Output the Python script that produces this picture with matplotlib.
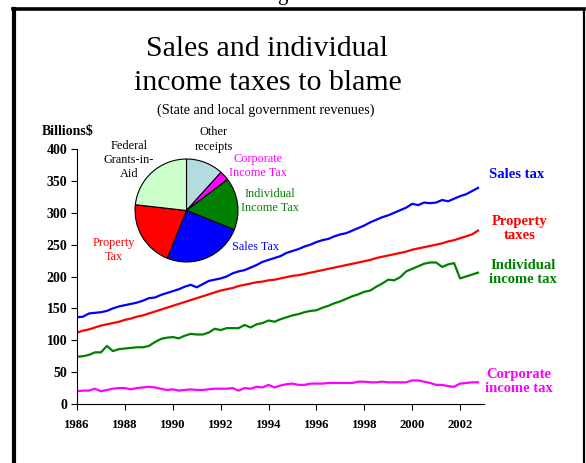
import numpy as np
import matplotlib
matplotlib.use("Agg")
import matplotlib.pyplot as plt
from matplotlib.lines import Line2D

plt.rcParams['font.family'] = ['Liberation Serif', 'DejaVu Serif']

# Quarterly observations, 1986Q1 - 2002Q4 (billions of dollars)
years = 1986 + 0.25 * np.arange(68)

sales_tax = [
    136, 137, 142, 143,
    144, 146, 150, 153,
    155, 157, 159, 162,
    166, 167, 171, 174,
    177, 180, 184, 187,
    183, 188, 193, 195,
    197, 200, 205, 208,
    210, 214, 218, 223,
    226, 229, 232, 237,
    240, 243, 247, 250,
    254, 257, 259, 263,
    266, 268, 272, 276,
    280, 285, 289, 293,
    296, 300, 304, 308,
    314, 312, 316, 315,
    316, 320, 318, 322,
    326, 329, 334, 339,
]

property_tax = [
    112, 115, 117, 120,
    123, 125, 127, 129,
    132, 134, 137, 139,
    142, 145, 148, 151,
    154, 157, 160, 163,
    166, 169, 172, 175,
    178, 180, 182, 185,
    187, 189, 191, 192,
    194, 195, 197, 199,
    201, 202, 204, 206,
    208, 210, 212, 214,
    216, 218, 220, 222,
    224, 226, 229, 231,
    233, 235, 237, 239,
    242, 244, 246, 248,
    250, 252, 255, 257,
    260, 263, 266, 272,
]

individual_tax = [
    74, 75, 77, 81,
    81, 91, 83, 86,
    87, 88, 89, 89,
    91, 97, 102, 104,
    105, 103, 107, 110,
    109, 109, 112, 118,
    116, 119, 119, 119,
    124, 120, 125, 127,
    131, 129, 133, 136,
    139, 141, 144, 146,
    147, 151, 154, 158,
    161, 165, 169, 172,
    176, 178, 184, 189,
    195, 194, 199, 208,
    212, 216, 220, 222,
    222, 215, 219, 221,
    197, 200, 203, 206,
]

corporate_tax = [
    20, 21, 21, 24,
    20, 22, 24, 25,
    25, 23, 25, 26,
    27, 26, 24, 22,
    23, 21, 22, 23,
    22, 22, 23, 24,
    24, 24, 25, 21,
    25, 24, 27, 26,
    30, 26, 29, 31,
    32, 30, 30, 32,
    32, 32, 33, 33,
    33, 33, 33, 35,
    35, 34, 34, 35,
    34, 34, 34, 34,
    37, 37, 35, 33,
    30, 30, 28, 27,
    32, 33, 34, 34,
]

# Revenue shares (percent) for the inset pie, clockwise from 12 o'clock
pie_labels = ["Other\nreceipts", "Corporate\nIncome Tax", "Individual\nIncome Tax",
              "Sales Tax", "Property\nTax", "Federal\nGrants-in-\nAid"]
pie_shares = [11.7, 3.0, 16.4, 25.0, 20.7, 23.2]
pie_colors = ["#b4dce0", "#ff00ff", "#008000", "#0000ff", "#ff0000", "#ccffcc"]

y_ticks = [0, 50, 100, 150, 200, 250, 300, 350, 400]
x_ticks = [1986, 1988, 1990, 1992, 1994, 1996, 1998, 2000, 2002]

W, H = 586, 463
fig = plt.figure(figsize=(W / 100, H / 100), dpi=100)


def fx(px):
    return px / W


def fy(py):
    return 1 - py / H


# Outer frame
fig.add_artist(Line2D([fx(14), fx(14)], [fy(8.5), fy(470)], color="black", lw=3.0))
fig.add_artist(Line2D([fx(12.5), fx(584)], [fy(8.5), fy(8.5)], color="black", lw=2.6))
fig.add_artist(Line2D([fx(583.5), fx(583.5)], [fy(8.5), fy(470)], color="black", lw=1.6))
fig.text(fx(282), fy(0.0), "g", ha="center", va="baseline", fontsize=15)

# Titles
fig.text(fx(267), fy(55.5), "Sales and individual", ha="center", va="baseline",
         fontsize=21.5)
fig.text(fx(268), fy(90.5), "income taxes to blame", ha="center", va="baseline",
         fontsize=21.5)
fig.text(fx(266), fy(110), "(State and local government revenues)", ha="center",
         va="center", fontsize=10.2)

# Main line chart
ax = fig.add_axes([fx(77), fy(404), fx(484) - fx(77), fy(149) - fy(404)])
ax.plot(years, sales_tax, color="#0000ff", lw=1.6)
ax.plot(years, property_tax, color="#ff0000", lw=1.6)
ax.plot(years, individual_tax, color="#008000", lw=1.6)
ax.plot(years, corporate_tax, color="#ff00ff", lw=1.6)
ax.set_xlim(1986, 2003)
ax.set_ylim(0, 400)
ax.set_yticks(y_ticks)
ax.set_xticks(x_ticks)
ax.set_xticklabels([str(v) for v in x_ticks])
for s in ("top", "right"):
    ax.spines[s].set_visible(False)
for s in ("left", "bottom"):
    ax.spines[s].set_linewidth(0.8)
ax.tick_params(axis="both", direction="out", length=4, width=0.8)
ax.tick_params(axis="x", pad=7, labelsize=9.2)
ax.tick_params(axis="y", pad=3, labelsize=10)
for lab in ax.get_xticklabels() + ax.get_yticklabels():
    lab.set_fontweight("bold")
ax.patch.set_alpha(0)

fig.text(fx(42), fy(131), "Billions$", ha="left", va="center", fontsize=10,
         fontweight="bold")

# Series labels on the right
fig.text(fx(517), fy(175), "Sales tax", ha="center", va="center", fontsize=10.5,
         fontweight="bold", color="#0000ff")
fig.text(fx(520), fy(228.5), "Property\ntaxes", ha="center", va="center", fontsize=10.5,
         fontweight="bold", color="#ff0000", linespacing=1.05)
fig.text(fx(523), fy(272.5), "Individual\nincome tax", ha="center", va="center",
         fontsize=10.5, fontweight="bold", color="#008000", linespacing=1.05)
fig.text(fx(519), fy(381.5), "Corporate\nincome tax", ha="center", va="center",
         fontsize=10.5, fontweight="bold", color="#ff00ff", linespacing=1.05)

# Inset pie
cx, cy, r = 186.5, 210.5, 52
pax = fig.add_axes([fx(cx - r), fy(cy + r), fx(2 * r), 2 * r / H])
pax.pie(pie_shares, colors=pie_colors, startangle=90, counterclock=False,
        wedgeprops=dict(edgecolor="black", linewidth=0.8))
pax.set_xlim(-1.01, 1.01)
pax.set_ylim(-1.01, 1.01)
pax.set_aspect("equal")
pax.axis("off")

pie_label_pos = [(214, 139.5), (258, 166), (270, 201), (255, 247), (114, 250), (129, 160)]
pie_label_col = ["black", "#ff00ff", "#008000", "#0000ff", "#ff0000", "black"]
for text, (px, py), c in zip(pie_labels, pie_label_pos, pie_label_col):
    fig.text(fx(px), fy(py), text, ha="center", va="center", fontsize=8.8, color=c,
             linespacing=1.25)

fig.savefig("out.png", dpi=100)
